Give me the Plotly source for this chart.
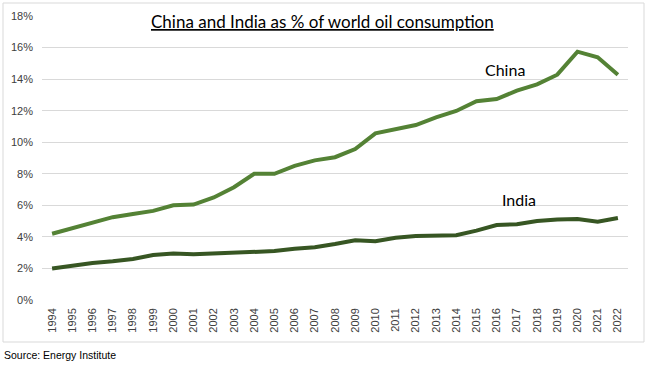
import plotly.graph_objects as go

years = [str(y) for y in range(1994, 2023)]
china = [4.2, 4.55, 4.95, 5.25, 5.45, 5.65, 6.0, 6.05, 6.5, 7.15, 8.0, 8.0, 8.5, 8.85, 9.05,
         9.57, 10.56, 10.82, 11.09, 11.58, 11.98, 12.6, 12.74, 13.27, 13.67, 14.28, 15.74, 15.38, 14.28]
india = [2.0, 2.2, 2.35, 2.45, 2.6, 2.85, 2.95, 2.9, 2.95, 2.95, 3.0, 3.1, 3.25, 3.35, 3.55,
         3.78, 3.72, 3.95, 4.05, 4.05, 4.1, 4.4, 4.75, 4.8, 5.0, 5.1, 5.13, 4.96, 5.2]
yticks = [0, 2, 4, 6, 8, 10, 12, 14, 16, 18]

fig = go.Figure()
fig.add_trace(go.Scatter(x=years, y=china, mode="lines", line=dict(color="#548235", width=4), name="China"))
fig.add_trace(go.Scatter(x=years, y=india, mode="lines", line=dict(color="#375623", width=4), name="India"))

W, H = 647, 366
L, R, T, B = 42, 19, 16, 66
pw, ph = W - L - R, H - T - B

def px(x):
    return (x - L) / pw

def py(y):
    return (H - B - y) / ph

fig.update_layout(
    width=W, height=H,
    margin=dict(l=L, r=R, t=T, b=B),
    paper_bgcolor="white", plot_bgcolor="white",
    showlegend=False,
    font=dict(family="Liberation Sans, Arial", color="#404040"),
    xaxis=dict(type="category", range=[-0.5, 28.5], tickangle=-90, showgrid=False, automargin=False,
               tickfont=dict(size=11, color="#404040"), ticks="", showline=False, zeroline=False,
               ticklabelstandoff=5),
    yaxis=dict(range=[0, 18], tickvals=yticks, ticktext=[f"{v}%" for v in yticks], automargin=False,
               showgrid=True, gridcolor="#d9d9d9", gridwidth=1, zeroline=False,
               tickfont=dict(size=11, color="#404040"), ticks="", showline=False,
               ticklabelstandoff=8),
    shapes=[dict(type="rect", xref="paper", yref="paper", x0=px(3), x1=px(644), y0=py(342), y1=py(3),
                 line=dict(color="#d9d9d9", width=1), fillcolor="rgba(0,0,0,0)", layer="below")],
    annotations=[
        dict(text="<u>China and India as % of world oil consumption</u>", xref="paper", yref="paper",
             x=px(322), y=py(22), showarrow=False, font=dict(family="Lato, Carlito, Calibri", size=17, color="#000000"),
             xanchor="center", yanchor="middle"),
        dict(text="China", xref="x", yref="y", x=22.4, y=14.58, showarrow=False,
             font=dict(family="Lato, Carlito, Calibri", size=16, color="#000000"), xanchor="center", yanchor="middle"),
        dict(text="India", xref="x", yref="y", x=23.1, y=6.4, showarrow=False,
             font=dict(family="Lato, Carlito, Calibri", size=16, color="#000000"), xanchor="center", yanchor="middle"),
        dict(text="Source: Energy Institute", xref="paper", yref="paper", x=px(2), y=py(355), showarrow=False,
             font=dict(family="Liberation Sans, Arial", size=10.5, color="#000000"), xanchor="left", yanchor="middle"),
    ],
)

fig.write_html("out.html", post_script="document.body.style.margin='0';",
               config={"displayModeBar": False})
